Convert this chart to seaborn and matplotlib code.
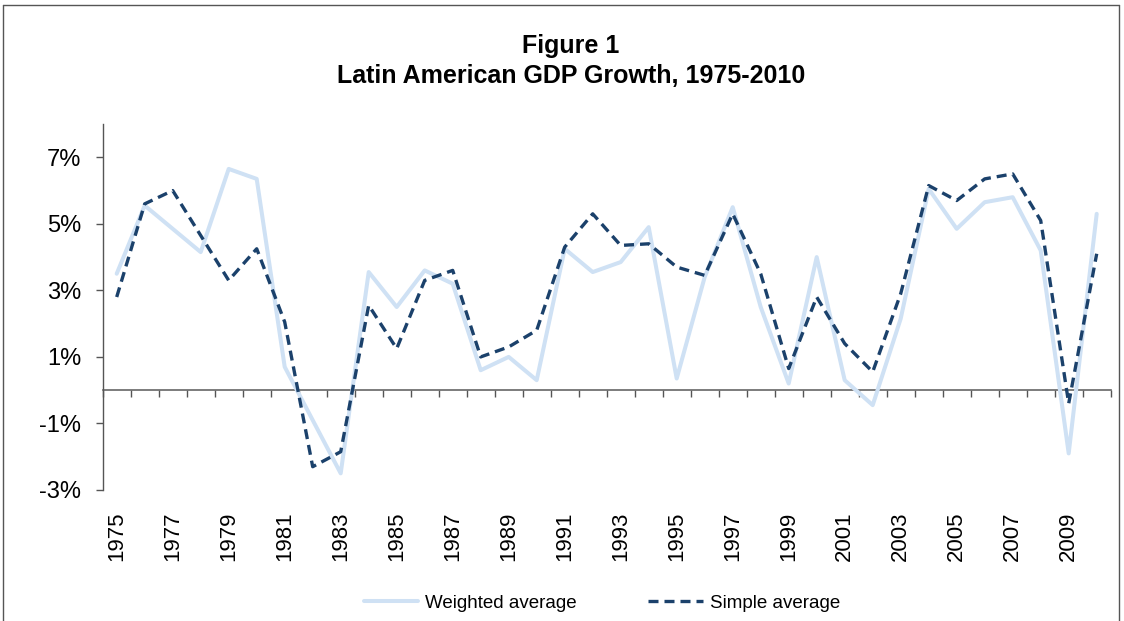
import matplotlib
matplotlib.use("Agg")
import matplotlib.pyplot as plt
import pandas as pd
import seaborn as sns
from matplotlib.lines import Line2D
from matplotlib.ticker import FuncFormatter

years = list(range(1975, 2011))
weighted = [3.5, 5.55, 4.85, 4.15, 6.65, 6.35, 0.7, -0.9, -2.5,
            3.55, 2.5, 3.6, 3.2, 0.6, 1.0, 0.3, 4.25, 3.55, 3.85,
            4.9, 0.35, 3.4, 5.5, 2.5, 0.2, 4.0, 0.3, -0.45, 2.15,
            6.05, 4.85, 5.65, 5.8, 4.2, -1.9, 5.3]
simple = [2.8, 5.6, 6.0, 4.65, 3.3, 4.25, 2.05, -2.3, -1.85,
          2.55, 1.25, 3.3, 3.6, 1.0, 1.3, 1.8, 4.3, 5.3, 4.35,
          4.4, 3.7, 3.45, 5.3, 3.5, 0.65, 2.8, 1.4, 0.55, 2.9,
          6.15, 5.7, 6.35, 6.5, 5.1, -0.4, 4.1]
y_ticks = [-3, -1, 1, 3, 5, 7]

df = pd.DataFrame({"year": years, "Weighted average": weighted, "Simple average": simple})

sns.set_style("white")
plt.rcParams["font.family"] = ["Liberation Sans", "DejaVu Sans"]
plt.rcParams["text.color"] = "black"

W, H = 1124, 621
fig = plt.figure(figsize=(W / 100, H / 100), dpi=100)
ax = fig.add_axes([102.7 / W, 1 - 490 / H, 1008 / W, 366 / H])

light = "#cfe1f4"
dark = "#1b416b"
sns.lineplot(data=df, x="year", y="Weighted average", ax=ax, color=light, lw=2.9,
             label="Weighted average")
sns.lineplot(data=df, x="year", y="Simple average", ax=ax, color=dark, lw=2.4,
             dashes=False, label="Simple average")
ax.lines[1].set_dashes([3.0, 1.8])

ax.set_xlim(years[0] - 0.5, years[-1] + 0.5)
ax.set_ylim(-3, 8)
ax.set_yticks(y_ticks)
ax.yaxis.set_major_formatter(FuncFormatter(lambda v, p: f"{v:.0f}%"))
ax.set_xticks(years[::2])
ax.set_xticklabels([str(y) for y in years[::2]], rotation=90)
ax.set_xlabel("")
ax.set_ylabel("")
ax.tick_params(axis="x", length=0, labelsize=16, pad=15.5, labelcolor="black")
ax.tick_params(axis="y", length=5, width=1, color="#555555", direction="out",
               labelsize=17, pad=10.5, left=True, labelcolor="black")
for s in ["top", "right", "bottom"]:
    ax.spines[s].set_visible(False)
ax.spines["left"].set_color("#555555")
ax.spines["left"].set_linewidth(1)

# zero line with category tick marks
zero = ax.secondary_xaxis(3 / 11)
zero.set_xticks([y - 0.5 for y in years] + [years[-1] + 0.5])
zero.set_xticklabels([])
zero.tick_params(length=5, width=1, color="#555555", direction="out")
zero.spines["bottom"].set_color("#666666")
zero.spines["bottom"].set_linewidth(1.2)

fig.text(571 / W, 1 - 46 / H, "Figure 1", ha="center", va="center",
         fontsize=18, fontweight="bold")
fig.text(571 / W, 1 - 76 / H, "Latin American GDP Growth, 1975-2010", ha="center",
         va="center", fontsize=18, fontweight="bold")

leg = ax.legend(loc="center", bbox_to_anchor=(602 / W, 1 - 603 / H),
                bbox_transform=fig.transFigure, ncol=2, frameon=False,
                fontsize=13.5, handlelength=2.9, handletextpad=0.4, columnspacing=3.8)

# figure border
for (x0, y0, x1, y1) in [(3, 5, 1119, 5), (3, 5, 3, 625), (1119, 5, 1119, 625)]:
    fig.add_artist(Line2D([x0 / W, x1 / W], [1 - y0 / H, 1 - y1 / H],
                          transform=fig.transFigure, color="#555555", lw=1))

fig.savefig("out.png", dpi=100)
